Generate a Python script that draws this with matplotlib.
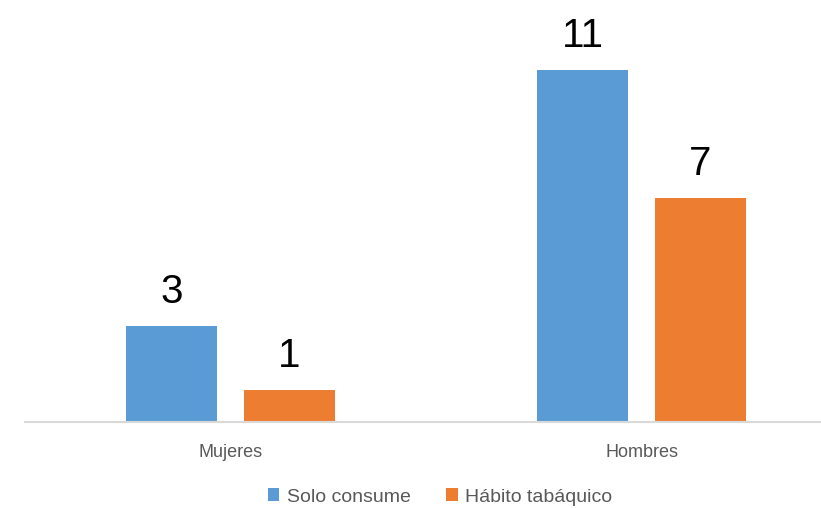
import numpy as np
import matplotlib.pyplot as plt

categories = ["Mujeres", "Hombres"]
series_names = ["Solo consume", "Hábito tabáquico"]
solo_consume = [3, 11]
habito_tabaquico = [1, 7]

colors = ["#5b9bd5", "#ed7d31"]

plt.rcParams['font.family'] = ['Liberation Sans', 'DejaVu Sans']

fig = plt.figure(figsize=(8.21, 5.08), dpi=100)
ax = fig.add_axes([25 / 821, 86 / 508, 822 / 821, 422 / 508])

x = np.arange(len(categories))
w = 0.222
off = 0.143
b1 = ax.bar(x - off, solo_consume, w, color=colors[0], label=series_names[0])
b2 = ax.bar(x + off, habito_tabaquico, w, color=colors[1], label=series_names[1])

for bars, vals in [(b1, solo_consume), (b2, habito_tabaquico)]:
    for bar, v in zip(bars, vals):
        ax.text(bar.get_x() + bar.get_width() / 2, v + 1.06, str(v),
                ha="center", va="center", fontsize=29, color="black")

ax.set_xlim(-0.5, 1.5)
ax.set_ylim(0, 422 / 32)
ax.set_xticks(x)
ax.set_xticklabels(categories, fontsize=13, color="#595959")
ax.tick_params(axis="x", length=0, pad=16)
ax.set_yticks([])
for s in ["top", "right", "left"]:
    ax.spines[s].set_visible(False)
ax.spines["bottom"].set_color("#d9d9d9")
ax.spines["bottom"].set_linewidth(1.5)

fig.legend(loc="center", bbox_to_anchor=(440 / 821, 1 - 497 / 508), ncol=2,
           frameon=False, fontsize=14, labelcolor="#595959",
           handlelength=0.6, handleheight=0.6, handletextpad=0.4, columnspacing=1.8)

fig.savefig("out.png", dpi=100)
